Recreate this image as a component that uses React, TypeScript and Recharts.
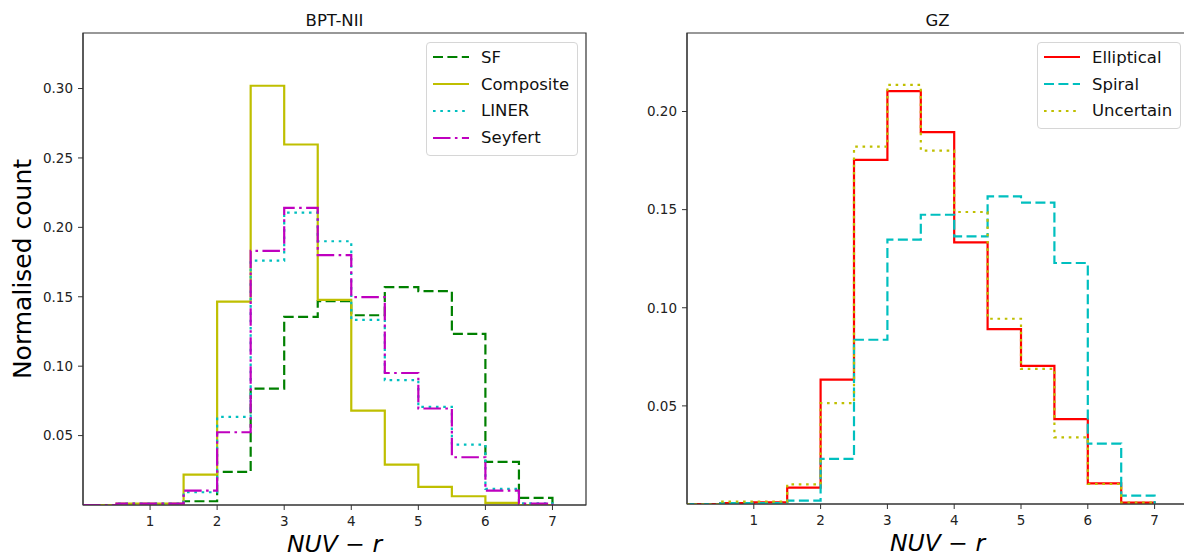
import React from 'react';
import { LineChart, Line, XAxis, YAxis, Legend, ReferenceArea } from 'recharts';

// bin edges of the NUV-r histograms (bin width 0.5)
const binEdges = [0, 0.5, 1, 1.5, 2, 2.5, 3, 3.5, 4, 4.5, 5, 5.5, 6, 6.5, 7];
const xTicks = [1, 2, 3, 4, 5, 6, 7];

// BPT-NII panel, normalised counts per bin
const sfCounts = [0, 0, 0, 0.0027, 0.0238, 0.0839, 0.1355, 0.1468, 0.1367, 0.1569, 0.154, 0.1233, 0.031, 0.0051];
const compositeCounts = [0, 0.001, 0.001, 0.0219, 0.1465, 0.302, 0.2597, 0.1478, 0.068, 0.0291, 0.013, 0.0063, 0.0015, 0];
const linerCounts = [0, 0.001, 0.001, 0.0092, 0.0635, 0.176, 0.2106, 0.19, 0.1333, 0.0899, 0.0707, 0.0435, 0.0116, 0.0012];
const seyfertCounts = [0, 0.001, 0.001, 0.0104, 0.0524, 0.183, 0.214, 0.18, 0.1497, 0.0951, 0.0695, 0.0344, 0.0104, 0.001];
const bptTicks = [0.05, 0.1, 0.15, 0.2, 0.25, 0.3];

// GZ panel
const ellipticalCounts = [0, 0.0005, 0.0009, 0.0083, 0.0634, 0.1753, 0.2104, 0.1895, 0.1333, 0.0891, 0.0704, 0.0432, 0.0105, 0.0007];
const spiralCounts = [0, 0.0005, 0.0005, 0.0017, 0.023, 0.0837, 0.1347, 0.1474, 0.1364, 0.1568, 0.1536, 0.1228, 0.0308, 0.0043];
const uncertainCounts = [0, 0.0012, 0.0012, 0.01, 0.0514, 0.1821, 0.2136, 0.1801, 0.1488, 0.0944, 0.0689, 0.034, 0.0102, 0.0007];
const gzTicks = [0.05, 0.1, 0.15, 0.2];

const FONT = '"DejaVu Sans", sans-serif';
const AXIS = '#333';

const DASHED = '10 4.4';
const DOTTED = '2.6 4.7';
const DASHDOT = '17.5 4.4 2.6 4.4';

// step histogram table: value of each bin at its left edge, back to 0 at the last edge
function buildRows(series: Record<string, number[]>) {
  return binEdges.map((x, i) => {
    const row: Record<string, number> = { x };
    Object.keys(series).forEach((k) => {
      row[k] = i < series[k].length ? series[k][i] : 0;
    });
    return row;
  });
}

const bptData = buildRows({ sf: sfCounts, composite: compositeCounts, liner: linerCounts, seyfert: seyfertCounts });
const gzData = buildRows({ elliptical: ellipticalCounts, spiral: spiralCounts, uncertain: uncertainCounts });

const bptSeries = [
  { key: 'sf', name: 'SF', color: '#008000', dash: DASHED },
  { key: 'composite', name: 'Composite', color: '#bfbf00', dash: undefined },
  { key: 'liner', name: 'LINER', color: '#00bfbf', dash: DOTTED },
  { key: 'seyfert', name: 'Seyfert', color: '#bf00bf', dash: DASHDOT },
];

const gzSeries = [
  { key: 'elliptical', name: 'Elliptical', color: '#ff0000', dash: undefined },
  { key: 'spiral', name: 'Spiral', color: '#00bfbf', dash: DASHED },
  { key: 'uncertain', name: 'Uncertain', color: '#bfbf00', dash: DOTTED },
];

type Series = { key: string; name: string; color: string; dash?: string };

const makeLegend = (series: Series[]) => () => (
  <div
    style={{
      border: '1px solid #d6d6d6',
      borderRadius: 4,
      background: 'rgba(255,255,255,0.8)',
      padding: '1px 8px 4px 6px',
      fontFamily: FONT,
      fontSize: 16.5,
      color: '#111',
    }}
  >
    {series.map((s) => (
      <div key={s.key} style={{ display: 'flex', alignItems: 'center', height: 26.8 }}>
        <svg width={36} height={6} style={{ marginRight: 12 }}>
          <line x1={0} y1={3} x2={36} y2={3} stroke={s.color} strokeWidth={2.2} strokeDasharray={s.dash} />
        </svg>
        <span>{s.name}</span>
      </div>
    ))}
  </div>
);

const XLabel = (props: any) => {
  const { x, y, width } = props.viewBox;
  return (
    <text x={x + width / 2} y={y + 47} textAnchor="middle" fontFamily={FONT} fontSize={23.5} fill="#000">
      <tspan fontStyle="italic">NUV</tspan>
      <tspan> − </tspan>
      <tspan fontStyle="italic">r</tspan>
    </text>
  );
};

const makeTitle = (title: string) => (props: any) => {
  const { x, y, width } = props.viewBox;
  return (
    <text x={x + width / 2} y={y - 7.5} textAnchor="middle" fontFamily={FONT} fontSize={16.5} fill="#111">
      {title}
    </text>
  );
};

const YLabel = (props: any) => {
  const { y, height } = props.viewBox;
  const cx = 22;
  const cy = y + height / 2;
  return (
    <text
      x={cx}
      y={cy}
      transform={`rotate(-90, ${cx}, ${cy})`}
      textAnchor="middle"
      dominantBaseline="central"
      fontFamily={FONT}
      fontSize={25}
      fill="#000"
    >
      Normalised count
    </text>
  );
};

const tickStyle = { fontFamily: FONT, fontSize: 13.5, fill: '#222' };

function Panel(props: {
  data: Record<string, number>[];
  series: Series[];
  yMax: number;
  yTicks: number[];
  title: string;
  yLabel?: boolean;
  yAxisWidth: number;
  xAxisHeight: number;
  marginRight: number;
  legendLeft: number;
}) {
  const { data, series, yMax, yTicks, title, yLabel, yAxisWidth, xAxisHeight, marginRight, legendLeft } = props;
  return (
    <LineChart
      width={600}
      height={557}
      data={data}
      margin={{ top: 33, right: marginRight, bottom: 0, left: 0 }}
    >
      <XAxis
        dataKey="x"
        type="number"
        domain={[0, 7.5]}
        ticks={xTicks}
        allowDataOverflow
        height={xAxisHeight}
        tickSize={5}
        tickMargin={6}
        tick={tickStyle}
        stroke={AXIS}
        label={<XLabel />}
      />
      <YAxis
        type="number"
        domain={[0, yMax]}
        ticks={yTicks}
        allowDataOverflow
        width={yAxisWidth}
        tickSize={5}
        tickMargin={5}
        tick={tickStyle}
        tickFormatter={(v: number) => v.toFixed(2)}
        stroke={AXIS}
        label={yLabel ? <YLabel /> : undefined}
      />
      {/* axes frame + panel title */}
      <ReferenceArea
        x1={0}
        x2={7.5}
        y1={0}
        y2={yMax}
        fill="none"
        stroke={AXIS}
        strokeWidth={1.2}
        ifOverflow="visible"
        label={makeTitle(title)}
      />
      <Legend
        layout="vertical"
        align="center"
        verticalAlign="middle"
        content={makeLegend(series)}
        wrapperStyle={{ top: 42, left: legendLeft, width: 'auto', height: 'auto' }}
      />
      {series.map((s) => (
        <Line
          key={s.key}
          type="stepAfter"
          dataKey={s.key}
          name={s.name}
          stroke={s.color}
          strokeWidth={2.2}
          strokeDasharray={s.dash}
          dot={false}
          activeDot={false}
          isAnimationActive={false}
        />
      ))}
    </LineChart>
  );
}

export default function App() {
  return (
    <div
      style={{
        position: 'fixed',
        left: 0,
        top: 0,
        width: 1184,
        height: 557,
        overflow: 'hidden',
        background: '#fff',
      }}
    >
      <div style={{ position: 'absolute', left: 0, top: 0 }}>
        <Panel
          data={bptData}
          series={bptSeries}
          yMax={0.34}
          yTicks={bptTicks}
          title="BPT-NII"
          yLabel
          yAxisWidth={83}
          xAxisHeight={52}
          marginRight={14}
          legendLeft={426}
        />
      </div>
      <div style={{ position: 'absolute', left: 600, top: 0 }}>
        <Panel
          data={gzData}
          series={gzSeries}
          yMax={0.24}
          yTicks={gzTicks}
          title="GZ"
          yAxisWidth={87}
          xAxisHeight={53}
          marginRight={12}
          legendLeft={437}
        />
      </div>
    </div>
  );
}
